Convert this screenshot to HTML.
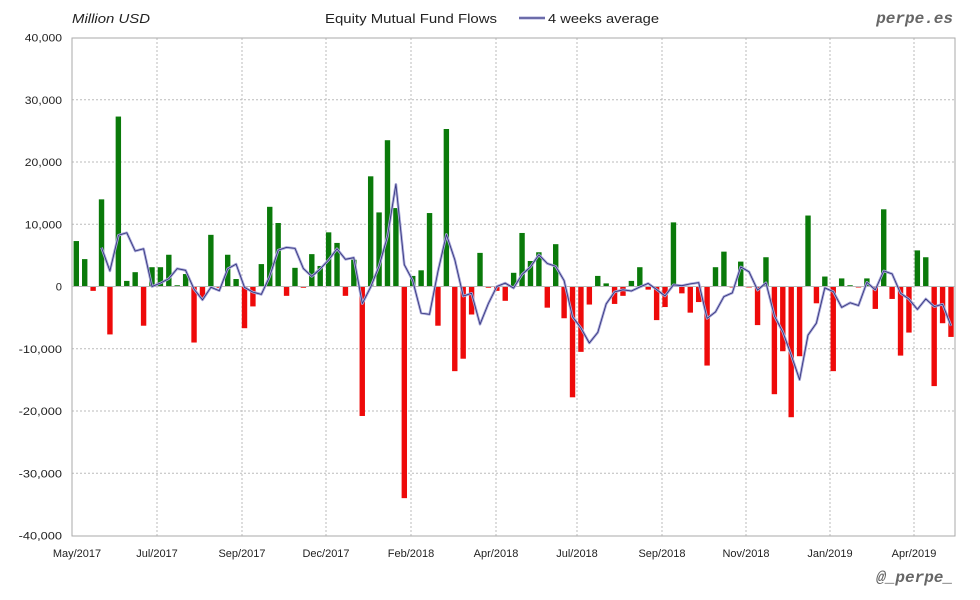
<!DOCTYPE html>
<html><head><meta charset="utf-8">
<style>
html,body{margin:0;padding:0;background:#fff;}
svg{display:block;font-family:"Liberation Sans",sans-serif;}
</style></head>
<body>
<svg id="c" width="980" height="600" xmlns="http://www.w3.org/2000/svg">
<rect width="980" height="600" fill="#fff"/>
<g id="grid"></g>
<rect x="72" y="38" width="883" height="498" fill="none" stroke="#aaa" stroke-width="1"/>
<g id="bars"></g>
<line x1="72" y1="286.5" x2="955" y2="286.5" stroke="#bbb" stroke-width="1"/>
<polyline id="l1" fill="none" stroke="#a8a8d8" stroke-width="2.6" stroke-linejoin="round"/>
<polyline id="l2" fill="none" stroke="#30307a" stroke-width="0.8" stroke-linejoin="round"/>
<g id="labels" font-size="11" fill="#222"></g>
<text x="72" y="23" font-size="13" font-style="italic" fill="#222" textLength="78" lengthAdjust="spacingAndGlyphs">Million USD</text>
<text x="325" y="23" font-size="13" fill="#222" textLength="172" lengthAdjust="spacingAndGlyphs">Equity Mutual Fund Flows</text>
<line x1="519" y1="18" x2="545" y2="18" stroke="#a8a8d8" stroke-width="3"/>
<line x1="519" y1="18" x2="545" y2="18" stroke="#30307a" stroke-width="1"/>
<text x="548" y="23" font-size="13" fill="#222" textLength="111" lengthAdjust="spacingAndGlyphs">4 weeks average</text>
<text x="953" y="23" font-size="16" font-weight="bold" font-style="italic" fill="#666" text-anchor="end" font-family="Liberation Mono, monospace">perpe.es</text>
<text x="953" y="582" font-size="16" font-weight="bold" font-style="italic" fill="#666" text-anchor="end" font-family="Liberation Mono, monospace">@_perpe_</text>
</svg>
<script>
var d=[7300,4400,-700,14000,-7700,27300,900,2300,-6300,3100,3100,5100,200,2000,-9000,-1800,8300,-200,5100,1200,-6700,-3200,3600,12800,10200,-1500,3000,-200,5200,3300,8700,7000,-1500,4300,-20800,17700,11900,23500,12600,-34000,1700,2600,11800,-6300,25300,-13600,-11600,-4500,5400,-200,-700,-2300,2200,8600,4100,5500,-3400,6800,-5100,-17800,-10500,-2900,1700,500,-2800,-1500,900,3100,-500,-5400,-3300,10300,-1100,-4200,-2500,-12700,3100,5600,-100,4000,-100,-6200,4700,-17300,-10400,-21000,-11200,11400,-2700,1600,-13600,1300,200,-100,1300,-3600,12400,-2000,-11100,-7400,5800,4700,-16000,-5900,-8100];
var NS="http://www.w3.org/2000/svg";
function el(t,a,p){var e=document.createElementNS(NS,t);for(var k in a)e.setAttribute(k,a[k]);document.getElementById(p).appendChild(e);return e;}
function Y(v){return 286.5-v*62.25/10000;}
function X(i){return 76.3+i*(951-76.3)/104;}
for(var v=-40000;v<=40000;v+=10000){
 if(v>-40000&&v<40000)el('line',{x1:72,x2:955,y1:Y(v),y2:Y(v),stroke:'#bbb','stroke-dasharray':'2,2'},'grid');
 var s=(v<0?'-':'')+Math.abs(v).toLocaleString('en-US');
 var t=el('text',{x:62,y:Y(v)+4,'text-anchor':'end',textLength:(s.length*6.2).toFixed(1),lengthAdjust:'spacingAndGlyphs'},'labels');t.textContent=s;
}
var xl=[[77,'May/2017'],[157,'Jul/2017'],[242,'Sep/2017'],[326,'Dec/2017'],[411,'Feb/2018'],[496,'Apr/2018'],[577,'Jul/2018'],[662,'Sep/2018'],[746,'Nov/2018'],[830,'Jan/2019'],[914,'Apr/2019']];
xl.forEach(function(p,i){
 if(i>0)el('line',{x1:p[0],x2:p[0],y1:38,y2:536,stroke:'#bbb','stroke-dasharray':'2,2'},'grid');
 var t=el('text',{x:p[0],y:557,'text-anchor':'middle'},'labels');t.textContent=p[1];
});
d.forEach(function(v,i){
 var y=Y(v),h=Math.abs(y-286.5);
 el('rect',{x:X(i)-2.7,y:Math.min(y,286.5),width:5.4,height:Math.max(h,1),fill:v>=0?'#0a7a0a':'#ee0a0a'},'bars');
});
var pts=[];
for(var i=3;i<d.length;i++){var a=(d[i]+d[i-1]+d[i-2]+d[i-3])/4;pts.push(X(i).toFixed(1)+','+Y(a).toFixed(1));}
document.getElementById('l1').setAttribute('points',pts.join(' '));
document.getElementById('l2').setAttribute('points',pts.join(' '));
</script>
</body></html>
